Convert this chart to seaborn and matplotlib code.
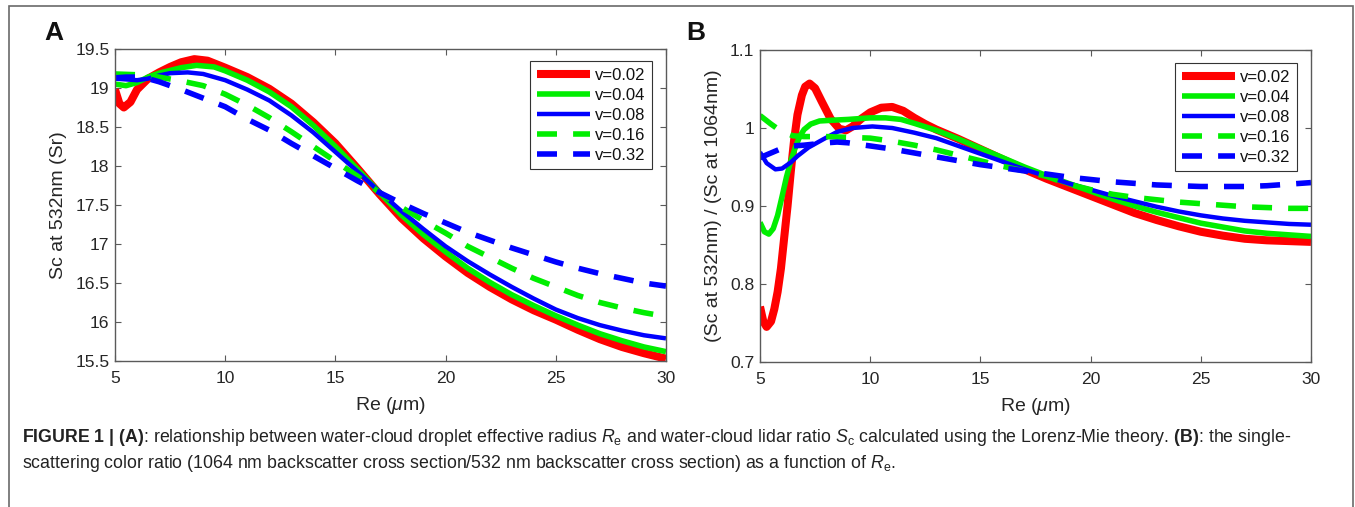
import numpy as np
import pandas as pd
import matplotlib
matplotlib.use("Agg")
import matplotlib.pyplot as plt
import matplotlib.patches as mpatches
import seaborn as sns

# ---------------- data ----------------
labels = ["v=0.02", "v=0.04", "v=0.08", "v=0.16", "v=0.32"]
colors = ["#ff0000", "#00ee00", "#0000ff", "#00ee00", "#0000ff"]

# Panel A : Sc at 532 nm
a_x_002 = [5.0, 5.2, 5.4, 5.7, 6.0, 6.5, 7.0, 7.5, 8.0, 8.6, 9.2, 10.0, 11.0, 12.0, 13.0, 14.0, 15.0,
           16.0, 17.0, 18.0, 19.0, 20.0, 21.0, 22.0, 23.0, 24.0, 25.0, 26.0, 27.0, 28.0, 29.0, 30.0]
a_y_002 = [18.98, 18.80, 18.75, 18.82, 18.98, 19.12, 19.20, 19.27, 19.33, 19.37, 19.35, 19.26, 19.14, 18.99,
           18.80, 18.56, 18.29, 17.97, 17.64, 17.33, 17.07, 16.84, 16.63, 16.45, 16.29, 16.15, 16.03,
           15.90, 15.78, 15.68, 15.60, 15.53]
a_x_004 = [5.0, 5.5, 6.0, 6.5, 7.0, 8.0, 8.7, 9.5, 10.0, 11.0, 12.0, 13.0, 14.0, 15.0, 16.0, 17.0, 18.0,
           19.0, 20.0, 21.0, 22.0, 23.0, 24.0, 25.0, 26.0, 27.0, 28.0, 29.0, 30.0]
a_y_004 = [19.05, 19.03, 19.07, 19.14, 19.19, 19.26, 19.29, 19.27, 19.22, 19.10, 18.95, 18.76, 18.52, 18.25,
           17.96, 17.66, 17.37, 17.12, 16.90, 16.69, 16.51, 16.35, 16.21, 16.08, 15.96, 15.85, 15.76,
           15.68, 15.62]
a_x_008 = [5.0, 5.5, 6.0, 6.5, 7.0, 7.5, 8.3, 9.0, 10.0, 11.0, 12.0, 13.0, 14.0, 15.0, 16.0, 17.0, 18.0,
           19.0, 20.0, 21.0, 22.0, 23.0, 24.0, 25.0, 26.0, 27.0, 28.0, 29.0, 30.0]
a_y_008 = [19.12, 19.11, 19.10, 19.12, 19.16, 19.19, 19.20, 19.18, 19.10, 18.98, 18.84, 18.65, 18.43, 18.18,
           17.93, 17.67, 17.42, 17.19, 16.97, 16.78, 16.61, 16.45, 16.30, 16.16, 16.05, 15.96, 15.89,
           15.83, 15.79]
a_x_016 = [5.0, 6.0, 7.0, 8.0, 9.0, 10.0, 11.0, 12.0, 13.0, 14.0, 15.0, 16.0, 17.0, 18.0, 19.0, 20.0,
           21.0, 22.0, 23.0, 24.0, 25.0, 26.0, 27.0, 28.0, 29.0, 30.0]
a_y_016 = [19.18, 19.17, 19.14, 19.09, 19.03, 18.92, 18.78, 18.62, 18.44, 18.25, 18.06, 17.87, 17.66, 17.47,
           17.30, 17.14, 16.97, 16.83, 16.69, 16.56, 16.45, 16.34, 16.25, 16.18, 16.12, 16.07]
a_x_032 = [5.0, 5.5, 6.0, 6.5, 7.0, 7.5, 8.0, 9.0, 10.0, 11.0, 12.0, 13.0, 14.0, 15.0, 16.0, 17.0, 18.0,
           19.0, 20.0, 21.0, 22.0, 23.0, 24.0, 25.0, 26.0, 27.0, 28.0, 29.0, 30.0]
a_y_032 = [19.13, 19.14, 19.14, 19.12, 19.08, 19.03, 18.98, 18.87, 18.76, 18.60, 18.46, 18.29, 18.13, 17.97,
           17.81, 17.66, 17.52, 17.39, 17.27, 17.15, 17.05, 16.95, 16.86, 16.77, 16.69, 16.62, 16.56,
           16.50, 16.46]

# Panel B : Sc(532) / Sc(1064)
b_x_002 = [5.0, 5.15, 5.3, 5.5, 5.65, 5.8, 5.95, 6.1, 6.25, 6.4, 6.55, 6.7, 6.9, 7.05, 7.25, 7.5, 7.8,
           8.2, 8.6, 8.9, 9.2, 9.6, 10.0, 10.5, 11.0, 11.5, 12.0, 12.5, 13.0, 14.0, 15.0, 16.0, 17.0,
           18.0, 19.0, 20.0, 21.0, 22.0, 23.0, 24.0, 25.0, 26.0, 27.0, 28.0, 29.0, 30.0]
b_y_002 = [0.771, 0.752, 0.745, 0.752, 0.768, 0.790, 0.820, 0.860, 0.900, 0.945, 0.985, 1.017, 1.042,
           1.053, 1.057, 1.051, 1.034, 1.012, 0.999, 0.997, 1.002, 1.012, 1.020, 1.026, 1.027, 1.022,
           1.013, 1.005, 0.998, 0.986, 0.973, 0.960, 0.947, 0.935, 0.924, 0.913, 0.902, 0.891, 0.882,
           0.874, 0.867, 0.862, 0.858, 0.856, 0.855, 0.854]
b_x_004 = [5.0, 5.2, 5.4, 5.6, 5.8, 6.0, 6.2, 6.4, 6.6, 6.8, 7.0, 7.3, 7.7, 8.3, 9.0, 10.0, 10.7, 11.4,
           12.0, 13.0, 14.0, 15.0, 16.0, 17.0, 18.0, 19.0, 20.0, 21.0, 22.0, 23.0, 24.0, 25.0, 26.0,
           27.0, 28.0, 29.0, 30.0]
b_y_004 = [0.879, 0.867, 0.864, 0.871, 0.888, 0.912, 0.937, 0.958, 0.975, 0.989, 0.998, 1.005, 1.009,
           1.010, 1.011, 1.013, 1.013, 1.011, 1.006, 0.997, 0.986, 0.974, 0.962, 0.950, 0.939, 0.929,
           0.919, 0.909, 0.900, 0.892, 0.885, 0.878, 0.873, 0.868, 0.865, 0.863, 0.861]
b_x_008 = [5.0, 5.3, 5.7, 6.0, 6.4, 6.7, 7.2, 7.9, 8.5, 9.2, 10.1, 11.0, 12.0, 13.0, 14.0, 15.0, 16.0,
           17.0, 18.0, 19.0, 20.0, 21.0, 22.0, 23.0, 24.0, 25.0, 26.0, 27.0, 28.0, 29.0, 30.0]
b_y_008 = [0.969, 0.955, 0.947, 0.948, 0.956, 0.964, 0.975, 0.986, 0.995, 1.000, 1.002, 1.000, 0.994,
           0.987, 0.977, 0.967, 0.957, 0.947, 0.938, 0.929, 0.921, 0.913, 0.906, 0.899, 0.893, 0.888,
           0.884, 0.881, 0.879, 0.877, 0.876]
b_x_016 = [5.0, 5.5, 6.0, 6.5, 7.0, 8.0, 9.0, 10.0, 11.0, 12.0, 13.0, 14.0, 15.0, 16.0, 17.0, 18.0,
           19.0, 20.0, 21.0, 22.0, 23.0, 24.0, 25.0, 26.0, 27.0, 28.0, 29.0, 30.0]
b_y_016 = [1.016, 1.005, 0.995, 0.990, 0.989, 0.989, 0.988, 0.987, 0.983, 0.978, 0.972, 0.965, 0.958,
           0.951, 0.945, 0.938, 0.928, 0.921, 0.915, 0.911, 0.908, 0.905, 0.903, 0.901, 0.899, 0.898,
           0.897, 0.897]
b_x_032 = [5.0, 5.5, 6.0, 6.5, 7.0, 8.0, 8.5, 9.0, 10.0, 11.0, 12.0, 13.0, 14.0, 15.0, 16.0, 17.0, 18.0,
           19.0, 20.0, 21.0, 22.0, 23.0, 24.0, 25.0, 26.0, 27.0, 28.0, 29.0, 30.0]
b_y_032 = [0.962, 0.968, 0.974, 0.977, 0.978, 0.981, 0.982, 0.981, 0.977, 0.973, 0.968, 0.963, 0.958,
           0.953, 0.949, 0.945, 0.941, 0.937, 0.934, 0.931, 0.929, 0.927, 0.926, 0.925, 0.925, 0.925,
           0.926, 0.928, 0.930]

x_ticks = [5, 10, 15, 20, 25, 30]
a_yticks = [15.5, 16, 16.5, 17, 17.5, 18, 18.5, 19, 19.5]
b_yticks = [0.7, 0.8, 0.9, 1, 1.1]

# ---------------- style ----------------
sns.set_theme(style="white")
plt.rcParams["font.family"] = ["Liberation Sans", "DejaVu Sans"]
plt.rcParams["mathtext.fontset"] = "custom"
plt.rcParams["mathtext.rm"] = "Liberation Sans"
plt.rcParams["mathtext.it"] = "Liberation Sans:italic"
plt.rcParams["mathtext.bf"] = "Liberation Sans:bold"
plt.rcParams["lines.solid_joinstyle"] = "round"
plt.rcParams["lines.dash_joinstyle"] = "round"

AX_COL = "#5a5a5a"
TXT_COL = "#262626"
widths = [5.8, 4.0, 3.2, 4.0, 4.0]
dashed = [False, False, False, True, True]

fig = plt.figure(figsize=(13.55, 5.07), dpi=100)
W, H = 1355.0, 507.0
axA = fig.add_axes([115 / W, 1 - 361 / H, 551 / W, 312 / H])
axB = fig.add_axes([760 / W, 1 - 362 / H, 551 / W, 312 / H])

seriesA = [(a_x_002, a_y_002), (a_x_004, a_y_004), (a_x_008, a_y_008), (a_x_016, a_y_016), (a_x_032, a_y_032)]
seriesB = [(b_x_002, b_y_002), (b_x_004, b_y_004), (b_x_008, b_y_008), (b_x_016, b_y_016), (b_x_032, b_y_032)]


def draw(ax, series, yticks, ylim, ylabel):
    for (xs, ys), lab, col, lw, d in zip(series, labels, colors, widths, dashed):
        df = pd.DataFrame({"Re": xs, "Sc": ys})
        n_before = len(ax.lines)
        sns.lineplot(data=df, x="Re", y="Sc", ax=ax, color=col, linewidth=lw, label=lab,
                     solid_capstyle="butt", dash_capstyle="butt")
        line = ax.lines[n_before]
        if d:
            line.set_dashes((3.6, 2.9))
    ax.set_xlim(5, 30)
    ax.set_ylim(*ylim)
    ax.set_xticks(x_ticks)
    ax.set_xticklabels([f"{t:g}" for t in x_ticks])
    ax.set_yticks(yticks)
    ax.set_yticklabels([f"{t:g}" for t in yticks])
    ax.tick_params(direction="in", length=4.5, width=0.8, color=AX_COL, top=True, right=True,
                   bottom=True, left=True, labelsize=12.6, labelcolor=TXT_COL)
    ax.tick_params(axis="x", pad=7.5)
    ax.tick_params(axis="y", pad=4)
    for s in ax.spines.values():
        s.set_visible(True)
        s.set_color(AX_COL)
        s.set_linewidth(1.0)
    ax.set_xlabel(r"Re ($\mu$m)", fontsize=14, color=TXT_COL, labelpad=6.5)
    ax.set_ylabel(ylabel, fontsize=14, color=TXT_COL, labelpad=6)
    ax.grid(False)
    leg = ax.legend(loc="upper right", bbox_to_anchor=(0.975, 0.962), borderaxespad=0,
                    fontsize=12, handlelength=3.2, handletextpad=0.3, labelspacing=0.3,
                    borderpad=0.4, frameon=True, fancybox=False, framealpha=1,
                    edgecolor="#333333")
    leg.get_frame().set_linewidth(0.8)
    for t in leg.get_texts():
        t.set_color("#111111")


draw(axA, seriesA, a_yticks, (15.5, 19.5), "Sc at 532nm (Sr)")
draw(axB, seriesB, b_yticks, (0.7, 1.1), "(Sc at 532nm) / (Sc at 1064nm)")
axB.legend_.set_bbox_to_anchor((0.975, 0.958))

fig.text(54 / W, 1 - 33 / H, "A", fontsize=19, fontweight="bold", ha="center", va="center", color="#111111")
fig.text(696 / W, 1 - 33 / H, "B", fontsize=19, fontweight="bold", ha="center", va="center", color="#111111")

cap1 = (r"$\mathbf{FIGURE\ 1\ |\ (A)}$: relationship between water-cloud droplet effective radius "
        r"$R_\mathrm{e}$ and water-cloud lidar ratio $S_\mathrm{c}$ calculated using the Lorenz-Mie theory. "
        r"$\mathbf{(B)}$: the single-")
cap2 = (r"scattering color ratio (1064 nm backscatter cross section/532 nm backscatter cross section) "
        r"as a function of $R_\mathrm{e}$.")
fig.text(22 / W, 1 - 437 / H, cap1, fontsize=12.8, ha="left", va="center", color="#222222")
fig.text(22 / W, 1 - 463 / H, cap2, fontsize=12.8, ha="left", va="center", color="#222222")

# thin figure frame
fig.add_artist(mpatches.Rectangle((9 / W, -0.05), (1353 - 9) / W, 1.05 - 6 / H, transform=fig.transFigure,
                                  fill=False, edgecolor="#6a6a6a", linewidth=1.2))

fig.savefig("out.png", dpi=100)
